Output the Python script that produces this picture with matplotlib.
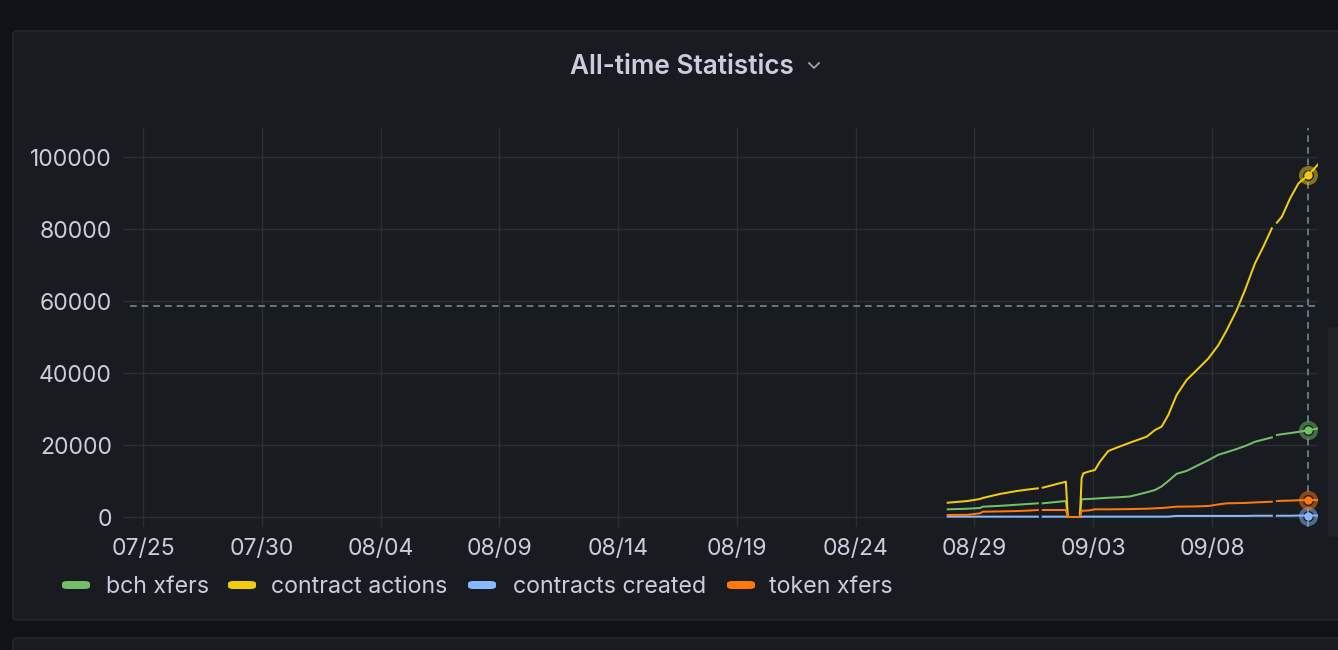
import numpy as np
import pandas as pd
import matplotlib
matplotlib.use("Agg")
import matplotlib.pyplot as plt
from matplotlib.patches import FancyBboxPatch
from matplotlib.lines import Line2D

plt.rcParams['font.family'] = ['Inter', 'DejaVu Sans']

nan = np.nan

# sample times (gaps are NaN rows)
times = [
    "2021-08-27 21:00", "2021-08-28 17:00", "2021-08-29 05:30", "2021-08-29 08:30",
    "2021-08-30 01:40", "2021-08-30 18:45", "2021-08-31 05:00", "2021-08-31 16:00",
    "2021-08-31 18:30", "2021-08-31 21:00", "2021-09-01 20:20", "2021-09-01 22:20",
    "2021-09-02 10:30", "2021-09-02 12:15", "2021-09-02 14:00", "2021-09-02 19:00",
    "2021-09-03 01:40", "2021-09-03 06:45", "2021-09-03 15:10", "2021-09-03 23:45",
    "2021-09-04 13:10", "2021-09-05 06:00", "2021-09-05 14:25", "2021-09-05 21:05",
    "2021-09-06 03:50", "2021-09-06 12:15", "2021-09-06 22:20", "2021-09-07 08:35",
    "2021-09-07 20:25", "2021-09-08 06:30", "2021-09-08 14:55", "2021-09-09 01:00",
    "2021-09-09 09:20", "2021-09-09 19:25", "2021-09-10 03:50", "2021-09-10 12:25",
    "2021-09-10 15:00", "2021-09-10 17:30", "2021-09-10 22:35", "2021-09-11 06:55",
    "2021-09-11 15:20", "2021-09-12 01:25", "2021-09-12 11:30",
]

bch_xfers = [
    2130, 2300, 2500, 2870, 3100, 3400, 3600, 3800, nan, 3800, 4440, 0,
    0, 4910, 4950, 5000, 5100, 5200, 5350, 5450, 5700, 6850, 7500, 8500,
    10000, 12000, 12800, 14200, 15800, 17300, 18000, 18900, 19700, 20900, 21500, 22100,
    nan, 22780, 23000, 23300, 23650, 24100, 24630,
]
contract_actions = [
    3970, 4440, 5000, 5300, 6390, 7220, 7600, 7960, nan, 8150, 9810, 0,
    0, 10740, 12130, 12590, 13060, 15370, 18330, 19260, 20650, 22310, 24170, 25090,
    28330, 33890, 38060, 40830, 44070, 47780, 51940, 57500, 63060, 70460, 75090, 80190,
    nan, 81750, 83420, 88520, 92690, 95000, 98060,
]
contracts_created = [
    100, 100, 100, 100, 100, 100, 100, 100, nan, 100, 100, 0,
    0, 100, 100, 100, 100, 100, 100, 100, 100, 100, 100, 100,
    100, 300, 300, 300, 300, 300, 300, 300, 300, 350, 350, 350,
    nan, 350, 350, 350, 400, 400, 400,
]
token_xfers = [
    560, 600, 1020, 1480, 1550, 1650, 1760, 1940, nan, 1940, 1940, 0,
    0, 1760, 1760, 1800, 2130, 2130, 2130, 2150, 2200, 2300, 2410, 2500,
    2650, 2870, 2900, 2950, 3060, 3500, 3800, 3850, 3900, 4050, 4150, 4250,
    nan, 4440, 4500, 4550, 4650, 4700, 4720,
]

series_names = ["bch xfers", "contract actions", "contracts created", "token xfers"]
series_values = [bch_xfers, contract_actions, contracts_created, token_xfers]
series_colors = ["#73bf69", "#f2cc0c", "#8ab8ff", "#ff780a"]

hover_time = "2021-09-12 01:25"
hover_value = 58600
tick_start = "2021-07-25"

W, H = 1338, 650
bg = "#111217"
panel = "#181b1f"
txt = "#ccccdc"
gridc = "#2b2e34"
crossc = "#6e8a96"

fig = plt.figure(figsize=(W / 100, H / 100), dpi=100, facecolor=bg)


def fx(px):
    return px / W


def fy(py):
    return 1 - py / H


def box(x0, y0, x1, y1, fc, ec="none", z=-5):
    fig.patches.append(FancyBboxPatch((fx(x0), fy(y1)), fx(x1) - fx(x0), fy(y0) - fy(y1),
                                      boxstyle="round,pad=0,rounding_size=0.004",
                                      transform=fig.transFigure, facecolor=fc,
                                      edgecolor=ec, linewidth=1.2, zorder=z))


# panels and scrollbar
box(13, 31, 1340, 620, panel, "#24272d")
box(13, 638, 1340, 660, panel, "#24272d")
box(1328, 327, 1345, 537, "#202328")

# title
fig.text(fx(682), fy(66.5), "All-time Statistics", color=txt, fontsize=18.8,
         fontweight="semibold", ha="center", va="center")
fig.add_artist(Line2D([fx(809), fx(814), fx(819)], [fy(63), fy(68), fy(63)],
                      transform=fig.transFigure, color="#9fa0ad", linewidth=1.3))

ax = fig.add_axes([fx(123), fy(527), fx(1318) - fx(123), fy(128) - fy(527)], zorder=2)
ax.set_facecolor("none")

t = pd.to_datetime(times)
for name, vals, col in zip(series_names, series_values, series_colors):
    ax.plot(t, vals, color=col, linewidth=1.45, solid_joinstyle="round")

# hover markers
hover_t = pd.Timestamp(hover_time)
hi = list(t).index(hover_t)
for vals, col in zip(series_values, series_colors):
    ax.plot([hover_t], [vals[hi]], marker="o", markersize=10.8, markerfacecolor="none",
            markeredgecolor=col, markeredgewidth=2.9, alpha=0.5, zorder=5)
    ax.plot([hover_t], [vals[hi]], marker="o", markersize=6, markerfacecolor=col,
            markeredgecolor="none", zorder=6)

ax.axvline(hover_t, color=crossc, linewidth=1.2, dashes=(4, 3), zorder=4)
ax.axhline(hover_value, xmin=7 / 1195, color=crossc, linewidth=1.2, dashes=(4, 3), zorder=4)

start = pd.Timestamp(tick_start)
day_px = 23.756
ax.set_xlim(start + pd.Timedelta(days=(123 - 143) / day_px),
            start + pd.Timedelta(days=(1318 - 143) / day_px))
ax.set_ylim(-10 * 20000 / 72, 389 * 20000 / 72)

xt = pd.date_range(tick_start, periods=10, freq="5D")
ax.set_xticks(xt)
ax.set_xticklabels([d.strftime("%m/%d") for d in xt])
ax.set_yticks([0, 20000, 40000, 60000, 80000, 100000])
ax.tick_params(colors=txt, labelsize=16.5, length=0, pad=8)
ax.grid(True, color=gridc, linewidth=1)
for s in ax.spines.values():
    s.set_visible(False)

# legend
leg_sw = [62, 228, 468, 727]
leg_tx = [106, 271, 513, 769]
for sx, tx, name, col in zip(leg_sw, leg_tx, series_names, series_colors):
    box(sx, 581, sx + 28, 589, col, z=3)
    fig.text(fx(tx), fy(587), name, color=txt, fontsize=16.7, ha="left", va="center")

fig.savefig("out.png", dpi=100, facecolor=bg)
